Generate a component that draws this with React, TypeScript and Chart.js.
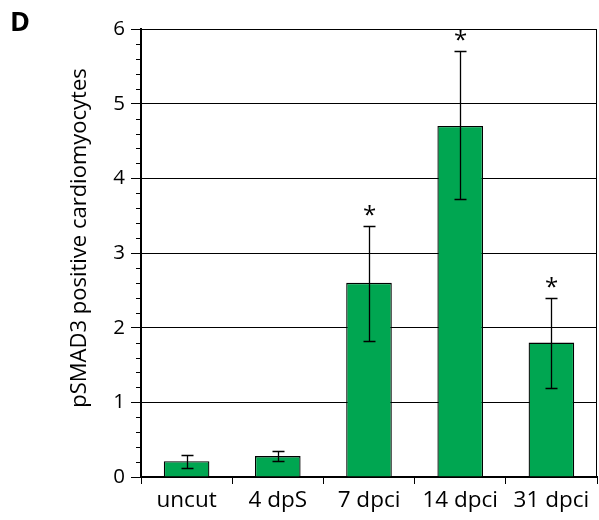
import React, { useEffect, useRef } from "react";
import { Chart, registerables } from "chart.js";

Chart.register(...registerables);

const categories = ["uncut", "4 dpS", "7 dpci", "14 dpci", "31 dpci"];
const means = [0.21, 0.28, 2.6, 4.7, 1.8];
const errHigh = [0.3, 0.35, 3.36, 5.7, 2.4];
const errLow = [0.12, 0.21, 1.82, 3.72, 1.19];
const significant = [false, false, true, true, true];
const yTicks = [0, 1, 2, 3, 4, 5, 6];
const yTitle = "pSMAD3 positive cardiomyocytes";
const panelLabel = "D";

const FONT = "'Open Sans', 'Noto Sans', sans-serif";

const overlay = {
  id: "overlay",
  afterDatasetsDraw(chart: any) {
    const ctx = chart.ctx;
    const x = chart.scales.x;
    const y = chart.scales.y;
    const a = chart.chartArea;
    ctx.save();
    // error bars
    ctx.strokeStyle = "#000";
    ctx.lineWidth = 1.3;
    categories.forEach((_, i) => {
      const cx = Math.round(x.getPixelForValue(i)) + 0.5;
      const yh = Math.round(y.getPixelForValue(errHigh[i])) + 0.5;
      const yl = Math.round(y.getPixelForValue(errLow[i])) + 0.5;
      ctx.beginPath();
      ctx.moveTo(cx, yh);
      ctx.lineTo(cx, yl);
      ctx.moveTo(cx - 6, yh);
      ctx.lineTo(cx + 6, yh);
      ctx.moveTo(cx - 6, yl);
      ctx.lineTo(cx + 6, yl);
      ctx.stroke();
      if (significant[i]) {
        ctx.fillStyle = "#000";
        ctx.font = `24px ${FONT}`;
        ctx.textAlign = "center";
        ctx.textBaseline = "middle";
        ctx.fillText("*", cx, yh - 10);
      }
    });
    // minor y ticks
    ctx.lineWidth = 1;
    ctx.beginPath();
    for (let v = 0; v <= 6.001; v += 0.2) {
      if (Math.abs(v - Math.round(v)) < 0.01) continue;
      const py = Math.round(y.getPixelForValue(v)) + 0.5;
      ctx.moveTo(a.left - 5, py);
      ctx.lineTo(a.left, py);
    }
    ctx.stroke();
    // right border
    ctx.beginPath();
    ctx.moveTo(Math.round(a.right) - 0.5, a.top);
    ctx.lineTo(Math.round(a.right) - 0.5, a.bottom);
    ctx.stroke();
    // y title
    ctx.fillStyle = "#000";
    ctx.font = `22px ${FONT}`;
    ctx.textAlign = "center";
    ctx.textBaseline = "middle";
    ctx.translate(80, 238);
    ctx.rotate(-Math.PI / 2);
    ctx.fillText(yTitle, 0, 0);
    ctx.restore();
    // panel label
    ctx.save();
    ctx.fillStyle = "#000";
    ctx.font = `bold 27px ${FONT}`;
    ctx.textAlign = "left";
    ctx.textBaseline = "alphabetic";
    ctx.fillText(panelLabel, 10, 31);
    ctx.restore();
  },
};

export default function App() {
  const ref = useRef<HTMLCanvasElement>(null);
  useEffect(() => {
    if (!ref.current) return;
    const chart = new Chart(ref.current, {
      type: "bar",
      data: {
        labels: categories,
        datasets: [
          {
            data: means,
            backgroundColor: "#00a651",
            borderColor: "#000",
            borderWidth: 1.3,
            barPercentage: 0.5,
            categoryPercentage: 1,
          },
        ],
      },
      plugins: [overlay],
      options: {
        responsive: false,
        animation: false,
        events: [],
        layout: { padding: { top: 29, right: 2, left: 0, bottom: 0 } },
        plugins: { legend: { display: false }, tooltip: { enabled: false }, title: { display: false } },
        scales: {
          x: {
            afterFit: (s: any) => {
              s.height = 43;
            },
            grid: {
              offset: true,
              drawOnChartArea: false,
              color: "#000",
              tickLength: 7,
              lineWidth: 1,
            },
            border: { color: "#000", width: 2 },
            ticks: {
              color: "#000",
              font: { family: FONT, size: 22.5 },
              padding: 3,
              maxRotation: 0,
              autoSkip: false,
            },
          },
          y: {
            min: 0,
            max: 6,
            afterFit: (s: any) => {
              s.width = 141;
            },
            afterBuildTicks: (s: any) => {
              s.ticks = yTicks.map((v) => ({ value: v }));
            },
            grid: { color: "#000", lineWidth: 1, tickLength: 10 },
            border: { color: "#000", width: 2 },
            ticks: {
              color: "#000",
              font: { family: FONT, size: 20.5 },
              padding: 6,
            },
          },
        },
      },
    });
    return () => chart.destroy();
  }, []);
  return (
    <div style={{ position: "absolute", left: 0, top: 0, width: 599, height: 520, background: "#fff" }}>
      <canvas ref={ref} width={599} height={520} />
    </div>
  );
}
